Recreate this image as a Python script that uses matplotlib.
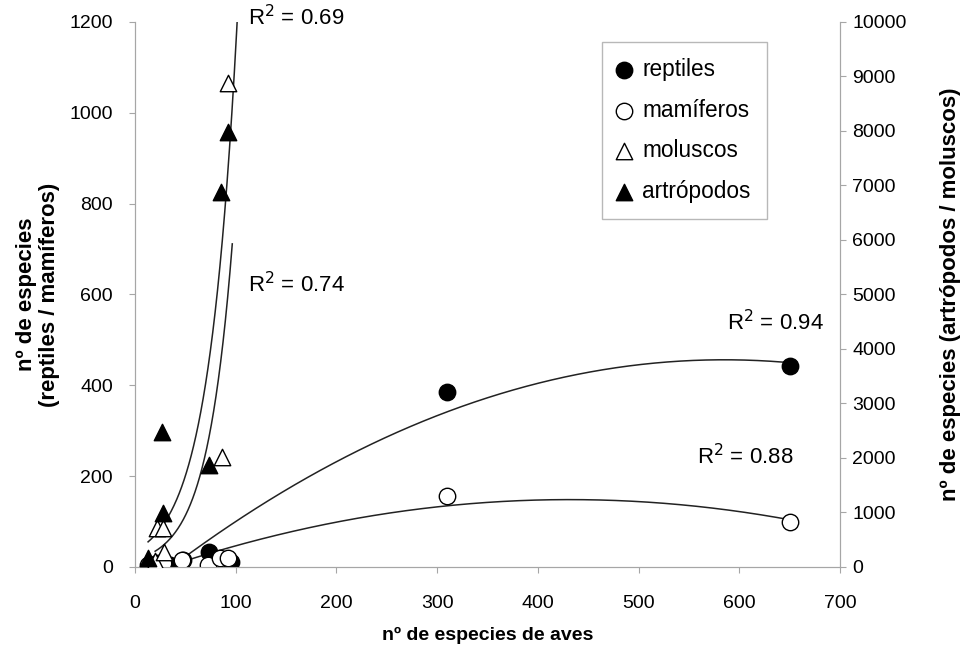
import numpy as np
import matplotlib
matplotlib.use("Agg")
import matplotlib.pyplot as plt

plt.rcParams['font.family'] = ['Liberation Sans', 'DejaVu Sans']

# data (x = nº de especies de aves)
reptiles_x = [15, 22, 35, 48, 73, 95, 310, 650]
reptiles_y = [3, 8, 4, 15, 33, 12, 385, 442]
mamiferos_x = [13, 18, 28, 47, 72, 84, 92, 310, 650]
mamiferos_y = [4, 3, 8, 15, 4, 20, 20, 157, 100]
# right axis series
moluscos_x = [20, 21.5, 28, 29, 86, 92.6]
moluscos_y = [110, 720, 720, 280, 2024, 8880]
artropodos_x = [13, 28, 27, 73, 85, 92.6]
artropodos_y = [165, 985, 2483, 1872, 6886, 7990]

r2_labels = ['R$^2$ = 0.69', 'R$^2$ = 0.74', 'R$^2$ = 0.94', 'R$^2$ = 0.88']

gray = '#a6a6a6'

fig = plt.figure(figsize=(9.67, 6.5), dpi=100)
ax = fig.add_axes([0.1396, 0.1277, 0.729, 0.8385])
ax2 = ax.twinx()


def poly_trend(axis, x, y):
    c = np.polyfit(x, y, 2)
    xs = np.linspace(min(x), max(x), 200)
    axis.plot(xs, np.polyval(c, xs), color='#222222', lw=1.1, zorder=2)


def exp_trend(axis, x, y, forward=0):
    # excel style exponential trendline (fit on ln y)
    b, lna = np.polyfit(x, np.log(y), 1)
    xs = np.linspace(min(x), max(x) + forward, 200)
    axis.plot(xs, np.exp(lna) * np.exp(b * xs), color='#222222', lw=1.1, zorder=2)


poly_trend(ax, reptiles_x, reptiles_y)
poly_trend(ax, mamiferos_x, mamiferos_y)
exp_trend(ax2, moluscos_x, moluscos_y, forward=4)
exp_trend(ax2, artropodos_x, artropodos_y, forward=15)

ms = 140
h1 = ax.scatter(reptiles_x, reptiles_y, s=ms, marker='o', facecolor='black',
                edgecolor='black', zorder=3, label='reptiles')
h2 = ax.scatter(mamiferos_x, mamiferos_y, s=ms, marker='o', facecolor='white',
                edgecolor='black', lw=1, zorder=3, label='mamíferos')
h3 = ax2.scatter(moluscos_x, moluscos_y, s=ms, marker='^', facecolor='white',
                 edgecolor='black', lw=1, zorder=3, label='moluscos')
h4 = ax2.scatter(artropodos_x, artropodos_y, s=ms, marker='^', facecolor='black',
                 edgecolor='black', zorder=3, label='artrópodos')

ax.set_xlim(0, 700)
ax.set_ylim(0, 1200)
ax2.set_ylim(0, 10000)
ax.set_xticks(np.arange(0, 701, 100))
ax.set_yticks(np.arange(0, 1201, 200))
ax2.set_yticks(np.arange(0, 10001, 1000))

for a in (ax, ax2):
    a.set_facecolor('none')
    a.spines['top'].set_visible(False)
    for s in ('left', 'right', 'bottom'):
        a.spines[s].set_color(gray)
    a.tick_params(colors=gray, labelcolor='black', labelsize=14, length=4)
ax.tick_params(axis='x', pad=16)
ax.tick_params(axis='y', pad=12)
ax2.tick_params(axis='y', pad=5)

ax.set_xlabel('nº de especies de aves', fontsize=14, fontweight='bold', labelpad=11)
ax.set_ylabel('nº de especies\n(reptiles / mamíferos)', fontsize=16,
              fontweight='bold', labelpad=7, linespacing=1.1)
ax2.set_ylabel('nº de especies (artrópodos / moluscos)', fontsize=16,
               fontweight='bold', labelpad=24)

ax.text(112, 1209, r2_labels[0], fontsize=16, va='center', clip_on=False)
ax.text(112, 621, r2_labels[1], fontsize=16, va='center')
ax.text(588, 537, r2_labels[2], fontsize=16, va='center')
ax.text(558, 242, r2_labels[3], fontsize=16, va='center')

leg = ax.legend(handles=[h1, h2, h3, h4], loc='upper right',
                bbox_to_anchor=(0.896, 0.963), borderaxespad=0, fontsize=16.3,
                frameon=True, fancybox=False, edgecolor=gray,
                handletextpad=0.5, handlelength=0.6, labelspacing=0.78,
                borderpad=0.7, markerscale=1.0)
leg.get_frame().set_linewidth(1)
leg.set_zorder(5)

fig.savefig('out.png', dpi=100)
